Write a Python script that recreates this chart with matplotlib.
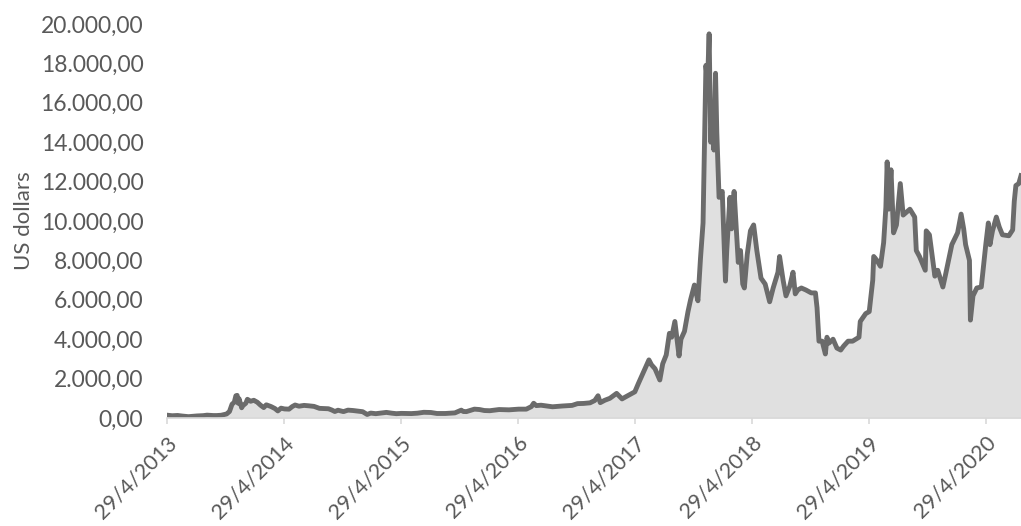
import numpy as np
import pandas as pd
import matplotlib
matplotlib.use("Agg")
import matplotlib.pyplot as plt
import matplotlib.transforms as mtransforms
from matplotlib.ticker import FuncFormatter

# bitcoin close price (US dollars)
dates = [
    "2013-04-29", "2013-05-15", "2013-06-01", "2013-06-15", "2013-07-05", "2013-07-20",
    "2013-08-01", "2013-08-20", "2013-09-01", "2013-09-20", "2013-10-01", "2013-10-15",
    "2013-11-01", "2013-11-10", "2013-11-18", "2013-11-25", "2013-11-30", "2013-12-04",
    "2013-12-07", "2013-12-10", "2013-12-18", "2013-12-22", "2013-12-31",
    "2014-01-05", "2014-01-15", "2014-01-25", "2014-02-05", "2014-02-15", "2014-02-25",
    "2014-03-05", "2014-03-20", "2014-04-01", "2014-04-10", "2014-04-20", "2014-05-01",
    "2014-05-15", "2014-05-25", "2014-06-03", "2014-06-15", "2014-07-01", "2014-07-15",
    "2014-08-01", "2014-08-18", "2014-09-01", "2014-09-15", "2014-09-25", "2014-10-05",
    "2014-10-15", "2014-11-01", "2014-11-15", "2014-12-01", "2014-12-15", "2014-12-31",
    "2015-01-14", "2015-01-25", "2015-02-10", "2015-03-01", "2015-03-15", "2015-04-01",
    "2015-04-15", "2015-05-01", "2015-06-01", "2015-06-20", "2015-07-10", "2015-08-01",
    "2015-08-20", "2015-09-15", "2015-10-15", "2015-11-04", "2015-11-10", "2015-11-20",
    "2015-12-15", "2015-12-31",
    "2016-01-15", "2016-02-01", "2016-03-01", "2016-04-01", "2016-05-01", "2016-05-25",
    "2016-06-10", "2016-06-17", "2016-06-25", "2016-07-10", "2016-08-01", "2016-08-15",
    "2016-09-15", "2016-10-15", "2016-11-01", "2016-11-20", "2016-12-10", "2016-12-25",
    "2017-01-04", "2017-01-11", "2017-01-25", "2017-02-10", "2017-03-03", "2017-03-20",
    "2017-04-01", "2017-04-29", "2017-05-10", "2017-05-25", "2017-06-12", "2017-06-20",
    "2017-07-01", "2017-07-16", "2017-07-25", "2017-08-05", "2017-08-15", "2017-08-22",
    "2017-09-01", "2017-09-14", "2017-09-20", "2017-10-01", "2017-10-12", "2017-10-20",
    "2017-11-01", "2017-11-12", "2017-11-20", "2017-11-28", "2017-12-07", "2017-12-12",
    "2017-12-17", "2017-12-22", "2017-12-27",
    "2018-01-01", "2018-01-06", "2018-01-10", "2018-01-17", "2018-01-27", "2018-02-01",
    "2018-02-06", "2018-02-10", "2018-02-20", "2018-02-25", "2018-03-05", "2018-03-18",
    "2018-03-25", "2018-04-01", "2018-04-06", "2018-04-15", "2018-04-25", "2018-05-05",
    "2018-05-15", "2018-05-28", "2018-06-10", "2018-06-24", "2018-07-05", "2018-07-20",
    "2018-07-25", "2018-08-05", "2018-08-14", "2018-08-26", "2018-09-05", "2018-09-12",
    "2018-09-20", "2018-10-01", "2018-10-15", "2018-11-01", "2018-11-14", "2018-11-19",
    "2018-11-25", "2018-12-05", "2018-12-15", "2018-12-20", "2018-12-26",
    "2019-01-08", "2019-01-20", "2019-02-01", "2019-02-10", "2019-02-24", "2019-03-10",
    "2019-03-30", "2019-04-03", "2019-04-20", "2019-05-01", "2019-05-12", "2019-05-15",
    "2019-05-25", "2019-06-05", "2019-06-15", "2019-06-22", "2019-06-26", "2019-07-01",
    "2019-07-08", "2019-07-16", "2019-07-25", "2019-08-06", "2019-08-15", "2019-09-05",
    "2019-09-20", "2019-09-25", "2019-10-05", "2019-10-23", "2019-10-26", "2019-11-05",
    "2019-11-22", "2019-12-01", "2019-12-17", "2019-12-25",
    "2020-01-14", "2020-02-01", "2020-02-12", "2020-02-20", "2020-02-26", "2020-03-09",
    "2020-03-12", "2020-03-20", "2020-04-01", "2020-04-15", "2020-04-29", "2020-05-07",
    "2020-05-12", "2020-05-20", "2020-06-01", "2020-06-10", "2020-06-20", "2020-07-10",
    "2020-07-22", "2020-07-27", "2020-08-01", "2020-08-10", "2020-08-17",
]
price = [
    144, 115, 129, 100, 68, 90,
    105, 120, 145, 125, 125, 140,
    205, 330, 700, 800, 1130, 1150,
    750, 980, 520, 630, 750,
    950, 850, 900, 800, 650, 530,
    670, 580, 480, 360, 500, 460,
    450, 580, 660, 600, 640, 620,
    590, 490, 480, 470, 410, 330,
    395, 325, 400, 380, 350, 320,
    180, 250, 220, 260, 285, 245,
    220, 235, 225, 245, 290, 280,
    230, 230, 260, 400, 330, 325,
    450, 430,
    380, 370, 430, 415, 450, 450,
    580, 750, 630, 650, 600, 570,
    610, 640, 730, 740, 770, 890,
    1130, 780, 900, 1000, 1250, 970,
    1080, 1330, 1750, 2300, 2950, 2700,
    2500, 1930, 2750, 3200, 4300, 4100,
    4900, 3150, 4000, 4400, 5400, 6000,
    6750, 5950, 8100, 9900, 17900, 17000,
    19500, 14000, 15800,
    13600, 17500, 14500, 11200, 11500, 9200,
    6950, 8500, 11200, 9600, 11500, 7900,
    8500, 6800, 6600, 8300, 9500, 9800,
    8500, 7100, 6800, 5900, 6600, 7400,
    8200, 7000, 6200, 6700, 7400, 6300,
    6500, 6600, 6500, 6350, 6350, 5600,
    3900, 3900, 3250, 4100, 3800,
    4000, 3550, 3450, 3650, 3900, 3900,
    4100, 4900, 5300, 5400, 7000, 8200,
    8000, 7700, 8900, 10700, 13000, 10600,
    12600, 9400, 9800, 11900, 10300, 10600,
    10200, 8500, 8200, 7500, 9500, 9300,
    7200, 7500, 6650, 7250,
    8800, 9400, 10350, 9600, 8800, 8000,
    4970, 6200, 6600, 6650, 8800, 9900,
    8800, 9500, 10200, 9700, 9300, 9250,
    9550, 11000, 11800, 11900, 12300,
]
tick_dates = ["2013-04-29", "2014-04-29", "2015-04-29", "2016-04-29",
              "2017-04-29", "2018-04-29", "2019-04-29", "2020-04-29"]
tick_labels = ["29/4/2013", "29/4/2014", "29/4/2015", "29/4/2016",
               "29/4/2017", "29/4/2018", "29/4/2019", "29/4/2020"]

x = pd.to_datetime(dates)
ticks = pd.to_datetime(tick_dates)

plt.rcParams['font.family'] = ['Lato', 'DejaVu Sans']
txt = '#595959'

fig = plt.figure(figsize=(10.21, 5.26), dpi=100)
ax = fig.add_axes([0.1636, 0.2053, 0.8364, 0.7491])

ax.fill_between(x, price, 0, color='#e0e0e0', lw=0)
ax.plot(x, price, color='#6b6b6b', lw=3.5, solid_joinstyle='round')

ax.set_xlim(x[0], x[-1])
ax.set_ylim(0, 20000)
ax.set_yticks(np.arange(0, 20001, 2000))


def euro(v, pos):
    s = "{:,.2f}".format(v)
    return s.replace(",", "X").replace(".", ",").replace("X", ".")


ax.yaxis.set_major_formatter(FuncFormatter(euro))
ax.set_xticks(ticks)
ax.set_xticklabels(tick_labels, rotation=45, ha='right', rotation_mode='anchor')
shift = mtransforms.ScaledTranslation(4 / 100, 0, fig.dpi_scale_trans)
for lab in ax.get_xticklabels():
    lab.set_transform(lab.get_transform() + shift)

for s in ['top', 'right', 'left']:
    ax.spines[s].set_visible(False)
ax.spines['bottom'].set_color('#d9d9d9')
ax.spines['bottom'].set_linewidth(1.2)
ax.tick_params(axis='x', colors='#d9d9d9', labelcolor=txt, length=4.5, width=1.2,
               labelsize=15.5, pad=6)
ax.tick_params(axis='y', length=0, labelcolor=txt, labelsize=16.5, pad=17)
ax.set_ylabel("US dollars", color=txt, fontsize=16)
ax.yaxis.set_label_coords(-0.156, 0.5)

fig.savefig("out.png", dpi=100)
